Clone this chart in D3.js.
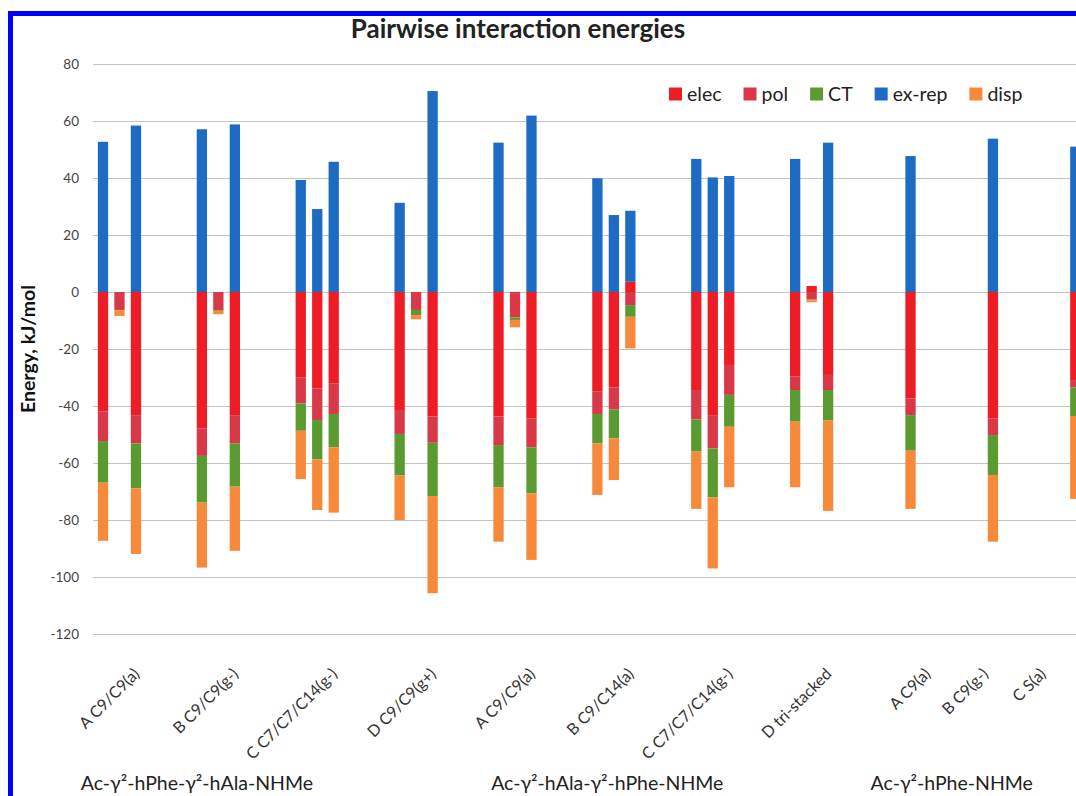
<!DOCTYPE html>
<html>
<head>
<meta charset="utf-8">
<script src="https://cdn.jsdelivr.net/npm/d3@7"></script>
<style>
  html, body { margin: 0; padding: 0; background: #fff; }
  svg { display: block; font-family: Lato, "Open Sans", sans-serif; }
</style>
</head>
<body>
<svg id="chart" width="1076" height="796"></svg>
<script>
// Pairwise interaction energy decomposition (kJ/mol), one stacked column per residue pair.
const molecules = ["Ac-γ²-hPhe-γ²-hAla-NHMe", "Ac-γ²-hAla-γ²-hPhe-NHMe", "Ac-γ²-hPhe-NHMe"];
const moleculeSlot = [5.7, 30.6, 51.5];

const conformers = [
  "A C9/C9(a)", "B C9/C9(g-)", "C C7/C7/C14(g-)", "D C9/C9(g+)",
  "A C9/C9(a)", "B C9/C14(a)", "C C7/C7/C14(g-)", "D tri-stacked",
  "A C9(a)", "B C9(g-)", "C S(a)"
];
const tickSlot = [1, 7, 13, 19, 25, 31, 37, 43, 49, 52.5, 56];

// category slot of every column (empty slots separate the conformers)
const slots = [0, 1, 2, 6, 7, 8, 12, 13, 14, 18, 19, 20,
               24, 25, 26, 30, 31, 32, 36, 37, 38, 42, 43, 44,
               49, 54, 59];
const elec  = [-42.0, -0.3, -43.2, -47.8, -0.3, -43.2, -29.9, -33.8, -32.0, -41.4, -0.3, -43.7,
               -43.7, -0.4, -44.3, -35.0, -33.5, 3.6, -34.4, -43.2, -25.6, -29.7, 2.1, -29.1,
               -37.3, -44.3, -30.9];
const pol   = [-10.3, -6.0, -9.9, -9.7, -6.0, -9.9, -9.2, -11.1, -10.8, -8.4, -6.0, -9.2,
               -10.0, -8.5, -10.2, -7.8, -7.7, -4.6, -10.3, -11.7, -10.5, -4.7, -2.6, -5.3,
               -5.9, -5.9, -2.6];
const ct    = [-14.6, -0.2, -15.8, -16.4, -0.3, -15.2, -9.6, -13.8, -11.7, -14.6, -1.8, -18.7,
               -14.8, -0.9, -16.1, -10.3, -10.1, -4.1, -11.3, -17.1, -11.2, -11.1, -0.3, -10.7,
               -12.5, -14.0, -10.0];
const exrep = [52.7, 0, 58.4, 57.1, 0, 58.8, 39.3, 29.1, 45.7, 31.3, 0, 70.5,
               52.4, 0, 61.9, 39.9, 27.0, 24.9, 46.7, 40.2, 40.7, 46.7, 0, 52.4,
               47.7, 53.8, 51.0];
const disp  = [-20.4, -1.9, -23.0, -22.8, -1.2, -22.5, -16.9, -17.8, -22.9, -15.6, -1.5, -34.1,
               -19.1, -2.6, -23.4, -18.1, -14.7, -11.1, -20.1, -25.0, -21.2, -23.0, -0.7, -31.7,
               -20.4, -23.4, -29.1];

const seriesKeys   = ["elec", "pol", "CT", "ex-rep", "disp"];
const seriesColors = ["#ee1d25", "#d93848", "#5b9a30", "#1d6bc2", "#f7893a"];
const yTicks = [80, 60, 40, 20, 0, -20, -40, -60, -80, -100, -120];
const slotCount = 62;

const rows = slots.map((s, i) => ({
  slot: s, "elec": elec[i], "pol": pol[i], "CT": ct[i], "ex-rep": exrep[i], "disp": disp[i]
}));

const svg = d3.select("#chart");
svg.append("rect").attr("width", 1076).attr("height", 796).attr("fill", "#fff");

const step = 16.48;
const x0 = 94.76;
const x = d3.scaleBand()
  .domain(d3.range(slotCount))
  .range([x0, x0 + step * slotCount])
  .paddingInner(0.375)
  .paddingOuter(0.1875);
const slotCenter = d3.scaleLinear().domain([0, slotCount]).range([x0 + step / 2, x0 + step / 2 + step * slotCount]);

const y = d3.scaleLinear().domain([-120, 80]).range([634, 64]);
const color = d3.scaleOrdinal().domain(seriesKeys).range(seriesColors);

// gridlines and value axis
const yAxis = d3.axisLeft(y).tickValues(yTicks).tickSize(-1200).tickPadding(14)
  .tickFormat(d => String(d));
const gy = svg.append("g").attr("transform", "translate(93,0)").call(yAxis);
gy.select(".domain").remove();
gy.selectAll(".tick line").attr("stroke", "#c4c4c4").attr("stroke-width", 1.2);
gy.selectAll(".tick text")
  .attr("fill", "#444").attr("font-size", 13.5).attr("font-family", "Lato, sans-serif");

// stacked columns, positive parts above zero and negative parts below
const stacked = d3.stack().keys(seriesKeys).offset(d3.stackOffsetDiverging)(rows);
svg.append("g").selectAll("g")
  .data(stacked)
  .join("g")
  .attr("fill", d => color(d.key))
  .selectAll("rect")
  .data(d => d)
  .join("rect")
  .attr("x", d => x(d.data.slot))
  .attr("width", x.bandwidth())
  .attr("y", d => y(Math.max(d[0], d[1])))
  .attr("height", d => Math.abs(y(d[0]) - y(d[1])));

// conformer labels, rotated
svg.append("g").selectAll("text")
  .data(conformers)
  .join("text")
  .attr("transform", (d, i) => `translate(${slotCenter(tickSlot[i]) + 21},${675}) rotate(-45)`)
  .attr("text-anchor", "end")
  .attr("font-size", 16)
  .attr("fill", "#333")
  .text(d => d);

// molecule names under each group
svg.append("g").selectAll("text")
  .data(molecules)
  .join("text")
  .attr("x", (d, i) => slotCenter(moleculeSlot[i]))
  .attr("y", 790)
  .attr("text-anchor", "middle")
  .attr("font-size", 19.5)
  .attr("fill", "#222")
  .text(d => d);

// title
svg.append("text")
  .attr("x", 518).attr("y", 38)
  .attr("text-anchor", "middle")
  .attr("font-size", 26).attr("font-weight", "bold")
  .attr("fill", "#222")
  .text("Pairwise interaction energies");

// value axis title
svg.append("text")
  .attr("transform", "translate(35,349) rotate(-90)")
  .attr("text-anchor", "middle")
  .attr("font-size", 19.5).attr("font-weight", "bold")
  .attr("fill", "#111")
  .text("Energy, kJ/mol");

// legend
const legend = svg.append("g").attr("transform", "translate(669,94)");
let lx = 0;
seriesKeys.forEach(k => {
  const item = legend.append("g").attr("transform", `translate(${lx},0)`);
  item.append("rect").attr("x", 0).attr("y", -6.5).attr("width", 13).attr("height", 13).attr("fill", color(k));
  const t = item.append("text").attr("x", 18).attr("y", 7)
    .attr("font-size", 19.5).attr("fill", "#222").text(k);
  lx += 18 + t.node().getComputedTextLength() + 22;
});

// frame
svg.append("rect")
  .attr("x", 10.5).attr("y", 13.5).attr("width", 2000).attr("height", 2000)
  .attr("fill", "none").attr("stroke", "#0000ff").attr("stroke-width", 5);
</script>
</body>
</html>
